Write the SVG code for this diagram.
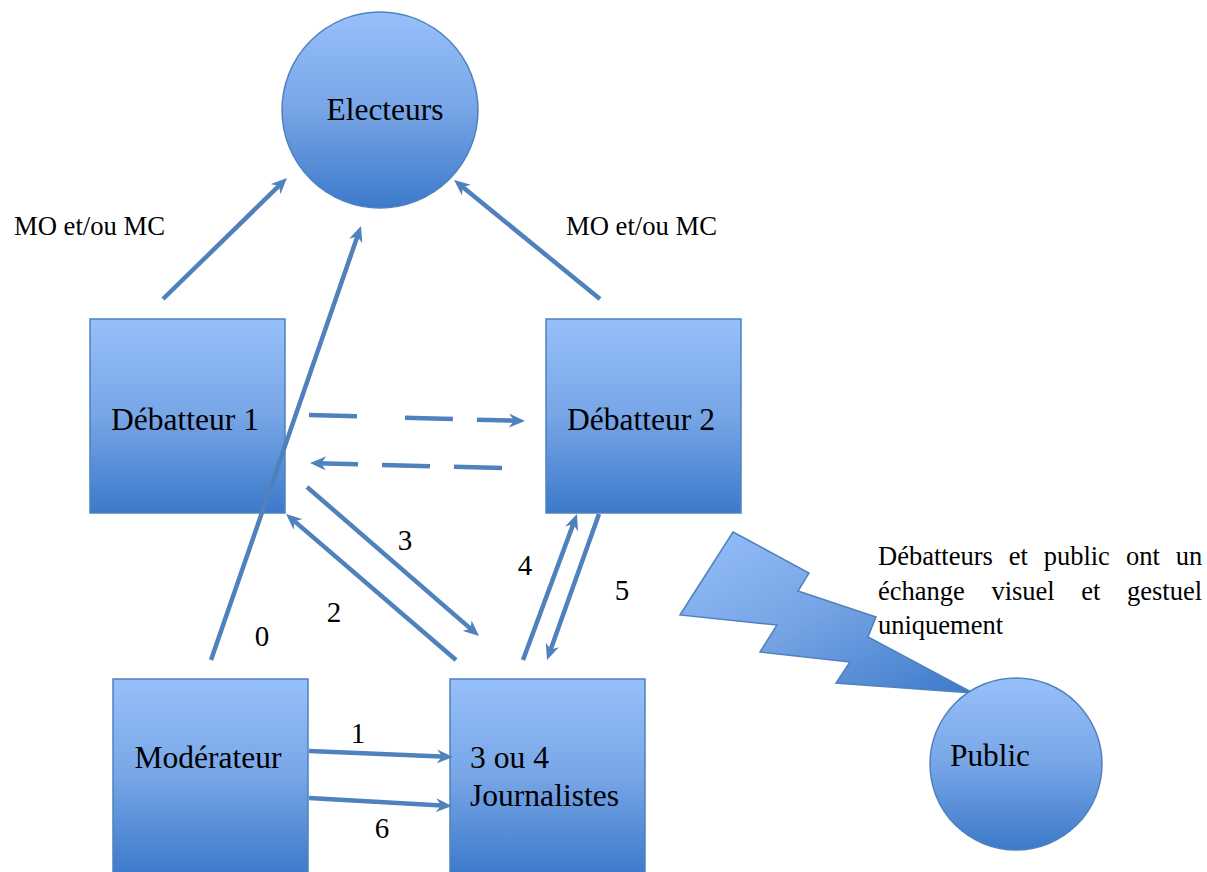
<svg xmlns="http://www.w3.org/2000/svg" width="1207" height="872" viewBox="0 0 1207 872">
<style>
.node{stroke:#4f81bd;stroke-width:1.5}
.t{font-family:'Liberation Serif','Times New Roman',serif;fill:#000}
.nt{font-size:31.5px}
.num{font-size:29px}
.side{font-size:26.5px}
.con{fill:none;stroke:#4f81bd;stroke-width:4.5;marker-end:url(#ah)}
</style>
<defs>
<linearGradient id="gv" x1="0" y1="0" x2="0" y2="1">
<stop offset="0" stop-color="#97c0fb"/>
<stop offset="0.5" stop-color="#77a5e6"/>
<stop offset="1" stop-color="#3c7aca"/>
</linearGradient>
<linearGradient id="gd" x1="0" y1="0" x2="1" y2="1">
<stop offset="0" stop-color="#97c0fb"/>
<stop offset="0.5" stop-color="#74a2e3"/>
<stop offset="1" stop-color="#3c7aca"/>
</linearGradient>
<marker id="ah" markerUnits="userSpaceOnUse" markerWidth="16" markerHeight="14" viewBox="0 0 16 14" refX="10" refY="7" orient="auto">
<path d="M0,0 L16,7 L0,14 L5,7 Z" fill="#4f81bd"/>
</marker>
</defs>
<rect width="1207" height="872" fill="#fff"/>

<g id="eclair">
<polygon class="node" fill="url(#gd)" points="733,532 809,573 798,591 876,617 868,637 973,693 836,683 850,662 760,652 777,625 680,615"/>
</g>

<g id="electeurs">
<circle class="node" cx="380" cy="110" r="98" fill="url(#gv)"/>
<text class="t nt" x="326.5" y="120" textLength="117" lengthAdjust="spacingAndGlyphs">Electeurs</text>
</g>
<g id="debatteur1">
<rect class="node" x="90" y="319" width="195" height="194" fill="url(#gv)"/>
<text class="t nt" x="111" y="430" textLength="148" lengthAdjust="spacingAndGlyphs">Débatteur 1</text>
</g>
<g id="debatteur2">
<rect class="node" x="546" y="319" width="195" height="194" fill="url(#gv)"/>
<text class="t nt" x="567" y="430" textLength="148" lengthAdjust="spacingAndGlyphs">Débatteur 2</text>
</g>
<g id="moderateur">
<rect class="node" x="113" y="679" width="195" height="196" fill="url(#gv)"/>
<text class="t nt" x="134.5" y="768" textLength="147" lengthAdjust="spacingAndGlyphs">Modérateur</text>
</g>
<g id="journalistes">
<rect class="node" x="450" y="679" width="195" height="196" fill="url(#gv)"/>
<text class="t nt" x="470" y="768" textLength="79" lengthAdjust="spacingAndGlyphs">3 ou 4</text>
<text class="t nt" x="470" y="806" textLength="149" lengthAdjust="spacingAndGlyphs">Journalistes</text>
</g>
<g id="public">
<circle class="node" cx="1016" cy="764" r="86" fill="url(#gv)"/>
<text class="t nt" x="950" y="766" textLength="80" lengthAdjust="spacingAndGlyphs">Public</text>
</g>

<g id="connecteurs">
<path class="con" d="M163,299 L282.7,182.2"/>
<path class="con" d="M211,660 L359,231.7"/>
<path class="con" d="M600,299 L458.7,183.8"/>
<path class="con" d="M309,415 L519,420.8" stroke-dasharray="48 48 48 24 80"/>
<path class="con" d="M502,468 L316,463.2" stroke-dasharray="48 24 48 24 80"/>
<path class="con" d="M307,487 L474.5,632.1"/>
<path class="con" d="M456,660 L290.6,517.9"/>
<path class="con" d="M523,660 L574.9,519.6"/>
<path class="con" d="M599,514 L549,654.3"/>
<path class="con" d="M309,751 L447,756.8"/>
<path class="con" d="M309,798 L446,805.7"/>
</g>

<g id="libelles">
<text class="t side" x="14" y="235" textLength="151" lengthAdjust="spacingAndGlyphs">MO et/ou MC</text>
<text class="t side" x="566" y="235" textLength="151" lengthAdjust="spacingAndGlyphs">MO et/ou MC</text>
<text class="t num" x="262" y="646" text-anchor="middle">0</text>
<text class="t num" x="358" y="743" text-anchor="middle">1</text>
<text class="t num" x="334" y="622" text-anchor="middle">2</text>
<text class="t num" x="405" y="550" text-anchor="middle">3</text>
<text class="t num" x="525" y="575" text-anchor="middle">4</text>
<text class="t num" x="622" y="600" text-anchor="middle">5</text>
<text class="t num" x="382" y="838" text-anchor="middle">6</text>
<text class="t side" x="878" y="565" textLength="114.8" lengthAdjust="spacingAndGlyphs">Débatteurs</text>
<text class="t side" x="1008.7" y="565" textLength="19.1" lengthAdjust="spacingAndGlyphs">et</text>
<text class="t side" x="1043.7" y="565" textLength="66.2" lengthAdjust="spacingAndGlyphs">public</text>
<text class="t side" x="1125.9" y="565" textLength="33.9" lengthAdjust="spacingAndGlyphs">ont</text>
<text class="t side" x="1175.7" y="565" textLength="26.5" lengthAdjust="spacingAndGlyphs">un</text>
<text class="t side" x="878" y="600" textLength="86.8" lengthAdjust="spacingAndGlyphs">échange</text>
<text class="t side" x="991.4" y="600" textLength="63.3" lengthAdjust="spacingAndGlyphs">visuel</text>
<text class="t side" x="1081.3" y="600" textLength="19.1" lengthAdjust="spacingAndGlyphs">et</text>
<text class="t side" x="1127" y="600" textLength="75.1" lengthAdjust="spacingAndGlyphs">gestuel</text>
<text class="t side" x="878" y="634" textLength="125.1" lengthAdjust="spacingAndGlyphs">uniquement</text>
</g>
</svg>
